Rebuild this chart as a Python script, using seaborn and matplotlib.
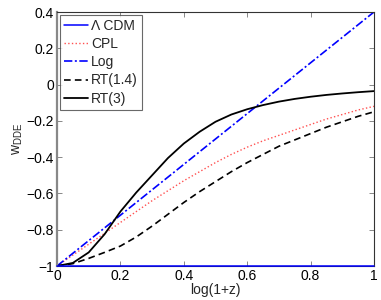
import numpy as np
import pandas as pd
import matplotlib
matplotlib.use('Agg')
import matplotlib.pyplot as plt
import seaborn as sns

# values
x_vals = [0.0, 0.05, 0.1, 0.15, 0.2, 0.25, 0.3, 0.35, 0.4, 0.45, 0.5,
          0.55, 0.6, 0.65, 0.7, 0.75, 0.8, 0.85, 0.9, 0.95, 1.0]
w_lcdm = [-1.0] * len(x_vals)
w_cpl = [-1.0, -0.94, -0.88, -0.82, -0.76, -0.70, -0.64, -0.585, -0.53, -0.48, -0.43,
         -0.385, -0.345, -0.31, -0.28, -0.25, -0.22, -0.19, -0.165, -0.14, -0.12]
w_log = [-1.0, -0.93, -0.86, -0.79, -0.72, -0.65, -0.58, -0.51, -0.44, -0.37, -0.30,
         -0.23, -0.16, -0.09, -0.02, 0.05, 0.12, 0.19, 0.26, 0.33, 0.40]
w_rt14 = [-1.0, -0.987, -0.958, -0.925, -0.89, -0.84, -0.78, -0.715, -0.65, -0.59, -0.535,
          -0.48, -0.43, -0.385, -0.34, -0.305, -0.27, -0.235, -0.205, -0.175, -0.15]
w_rt3 = [-1.0, -0.983, -0.925, -0.825, -0.70, -0.595, -0.50, -0.405, -0.325, -0.26, -0.205,
         -0.165, -0.136, -0.113, -0.094, -0.079, -0.067, -0.057, -0.049, -0.042, -0.036]

labels = ['\u039b CDM', 'CPL', 'Log', 'RT(1.4)', 'RT(3)']
series = [w_lcdm, w_cpl, w_log, w_rt14, w_rt3]
colors = ['#0000ff', '#ff5050', '#0000ff', 'black', 'black']
styles = ['-', ':', '-.', '--', '-']
widths = [1.1, 1.0, 1.2, 1.2, 1.3]

xticks = [0, 0.2, 0.4, 0.6, 0.8, 1]
xticklabels = ['0', '0.2', '0.4', '0.6', '0.8', '1']
yticks = [-1, -0.8, -0.6, -0.4, -0.2, 0, 0.2, 0.4]
yticklabels = ['\u22121', '\u22120.8', '\u22120.6', '\u22120.4', '\u22120.2', '0', '0.2', '0.4']

rows = []
for lab, ys in zip(labels, series):
    for xv, yv in zip(x_vals, ys):
        rows.append({'x': xv, 'w': yv, 'model': lab})
df = pd.DataFrame(rows)

sns.set_style('ticks')
plt.rcParams['font.family'] = ['Liberation Sans', 'DejaVu Sans']
plt.rcParams['mathtext.default'] = 'regular'

fig = plt.figure(figsize=(3.81, 3.0), dpi=100)
ax = fig.add_axes([0.1496, 0.1133, 0.8320, 0.8467])

for lab, c, ls, lw in zip(labels, colors, styles, widths):
    sub = df[df['model'] == lab]
    sns.lineplot(data=sub, x='x', y='w', ax=ax, color=c, linestyle=ls,
                 linewidth=lw, label=lab, estimator=None, sort=True)

# matlab-like dash patterns, lambda-cdm line drawn over the bottom frame
ax.lines[0].set_clip_on(False)
ax.lines[0].set_zorder(5)
ax.lines[3].set_dashes([4, 2.5])
ax.lines[2].set_dashes([5, 1.5, 1.2, 1.5])

ax.set_xlim(0, 1)
ax.set_ylim(-1, 0.4)
ax.set_xticks(xticks)
ax.set_xticklabels(xticklabels)
ax.set_yticks(yticks)
ax.set_yticklabels(yticklabels)
ax.tick_params(direction='in', top=True, right=True, length=3.5, width=0.7,
               labelsize=10, colors='#888888', labelcolor='black', pad=2)
for sp in ax.spines.values():
    sp.set_color('#333333')
    sp.set_linewidth(0.8)
ax.spines['left'].set_color('#888888')
ax.spines['left'].set_linewidth(1.6)

ax.set_xlabel('log(1+z)', fontsize=10, labelpad=0)
ax.set_ylabel('w$_{DDE}$', fontsize=10, labelpad=1)

leg = ax.legend(loc='upper left', fontsize=10, frameon=True, fancybox=False,
                borderaxespad=0.2, handlelength=1.7, handletextpad=0.25,
                labelspacing=0.3, borderpad=0.3)
leg.get_frame().set_edgecolor('#444444')
leg.get_frame().set_linewidth(0.8)

fig.savefig('out.png', dpi=100)
